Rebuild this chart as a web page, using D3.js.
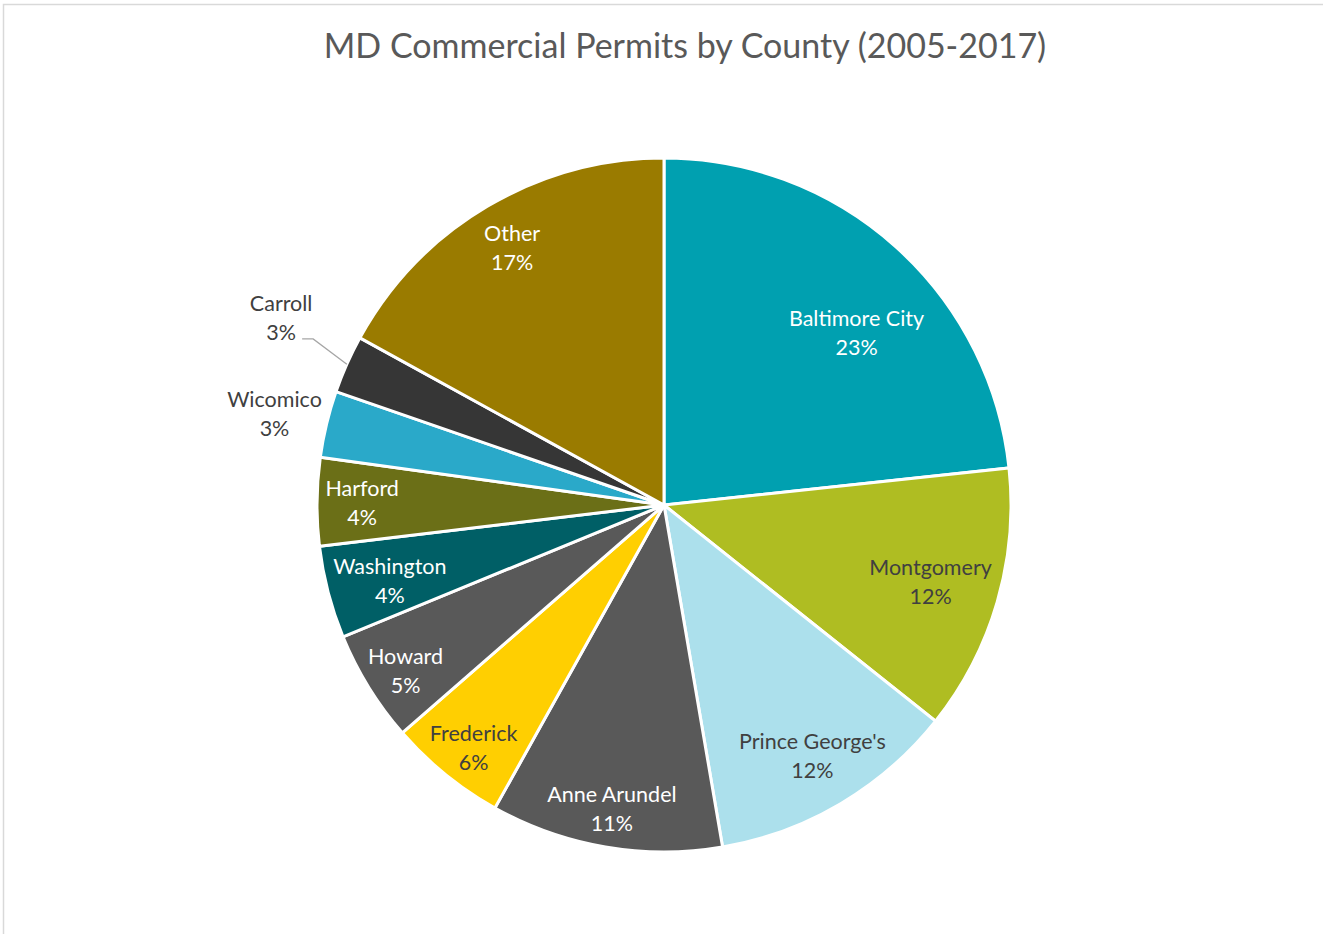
<!DOCTYPE html>
<html>
<head>
<meta charset="utf-8">
<script src="https://cdn.jsdelivr.net/npm/d3@7"></script>
<style>
  html, body { margin: 0; padding: 0; background: #fff; }
  svg { display: block; }
</style>
</head>
<body>
<svg id="chart" width="1323" height="934"></svg>
<script>
// ---- data ----
const counties = ["Baltimore City", "Montgomery", "Prince George's", "Anne Arundel", "Frederick",
                  "Howard", "Washington", "Harford", "Wicomico", "Carroll", "Other"];
const shares = [23.3, 12.4, 11.6, 10.8, 5.5, 5.2, 4.3, 4.1, 3.1, 2.7, 17.0];
const sliceColors = ["#00A0B0", "#AFBD22", "#ACE0EC", "#595959", "#FFCF01",
                     "#595959", "#005F66", "#6B6F17", "#2AA9C9", "#363636", "#9A7B00"];
const labelColors = ["#ffffff", "#404040", "#404040", "#ffffff", "#404040",
                     "#ffffff", "#ffffff", "#ffffff", "#404040", "#404040", "#ffffff"];
// label placement (fraction of radius; >1 = outside label)
const labelRadius = [0.745, 0.80, 0.84, 0.89, 0.89, 0.885, 0.82, 0.87, 1.153, 1.228, 0.86];
const labelAngleShift = [6.2, 0, 0, 0, -1, -1, -1, -0.1, -0.3, 2.1, 0];
const titleText = "MD Commercial Permits by County (2005-2017)";

const svg = d3.select("#chart");
const W = 1323, H = 934;
const cx = 664, cy = 505, R = 347;
const font = "Lato, 'Open Sans', sans-serif";

// frame
svg.append("rect").attr("x", 3.5).attr("y", 4.5).attr("width", W + 40).attr("height", H + 40)
  .attr("fill", "#fff").attr("stroke", "#d9d9d9").attr("stroke-width", 1.5);

// title
svg.append("text").attr("x", 685).attr("y", 58).attr("text-anchor", "middle")
  .attr("font-family", font).attr("font-size", 34).attr("fill", "#595959")
  .text(titleText);

const data = counties.map((c, i) => ({ name: c, value: shares[i], i }));
const pie = d3.pie().value(d => d.value).sort(null);
const arcs = pie(data);
const arc = d3.arc().innerRadius(0).outerRadius(R);

const g = svg.append("g").attr("transform", `translate(${cx},${cy})`);

g.selectAll("path.slice").data(arcs).join("path")
  .attr("class", "slice")
  .attr("d", arc)
  .attr("fill", d => sliceColors[d.data.i])
  .attr("stroke", "#fff").attr("stroke-width", 3).attr("stroke-linejoin", "miter");

// labels
function polar(angle, r) { return [r * Math.sin(angle), -r * Math.cos(angle)]; }

arcs.forEach(d => {
  const i = d.data.i;
  const mid = (d.startAngle + d.endAngle) / 2 + labelAngleShift[i] * Math.PI / 180;
  const [x, y] = polar(mid, R * labelRadius[i]);
  const t = g.append("text").attr("text-anchor", "middle")
    .attr("font-family", font).attr("font-size", 21.5).attr("fill", labelColors[i]);
  t.append("tspan").attr("x", x).attr("y", y - 7).text(d.data.name);
  t.append("tspan").attr("x", x).attr("y", y + 22).text(Math.round(d.data.value) + "%");
});

// leader line for Carroll
{
  const d = arcs[9];
  const mid = (d.startAngle + d.endAngle) / 2;
  const [ex, ey] = polar(mid, R);
  const [lx, ly] = polar(mid + labelAngleShift[9] * Math.PI / 180, R * labelRadius[9]);
  const sx = lx + 21, sy = ly + 21;
  g.append("polyline")
    .attr("points", `${sx},${sy} ${sx + 11},${sy} ${ex},${ey}`)
    .attr("fill", "none").attr("stroke", "#a6a6a6").attr("stroke-width", 1.3);
}
</script>
</body>
</html>
